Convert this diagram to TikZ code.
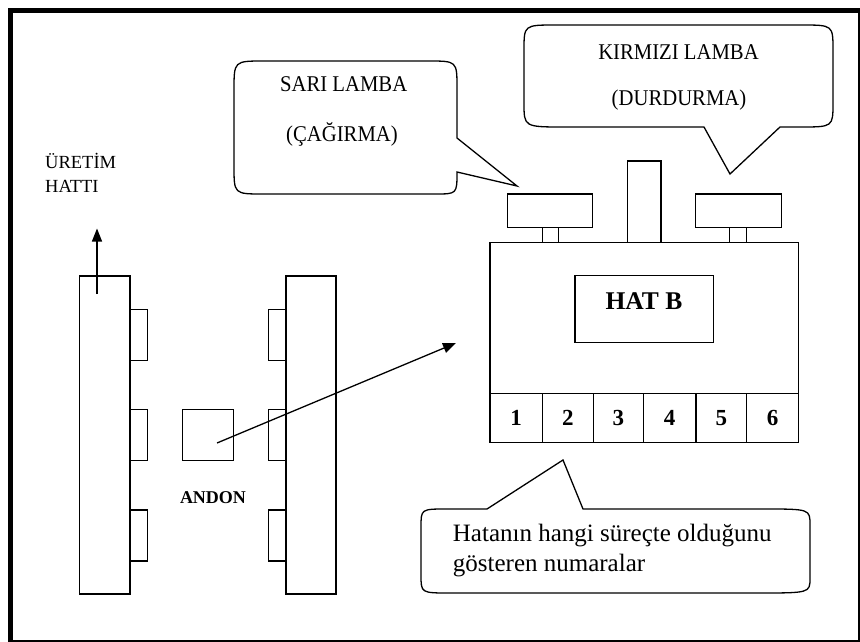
\documentclass[tikz,border=0pt]{standalone}
\usepackage{fontspec}
\setmainfont{Liberation Serif}
\newfontfamily\tallserif{Liberation Serif}[FakeStretch=0.92]
\usetikzlibrary{arrows.meta}
\begin{document}
\begin{tikzpicture}[x=1pt,y=-1pt,
  box/.style={draw, line width=1.3pt, inner sep=0pt, outer sep=0pt, anchor=north west},
  cell/.style={draw, line width=1.3pt, inner sep=0pt, outer sep=0pt, minimum height=49.4pt,
    font=\fontsize{23}{26}\selectfont\bfseries},
  bubble/.style={draw, line width=1.3pt},
  lbl/.style={inner sep=0pt, anchor=base, font=\tallserif\fontsize{22.5}{25}\selectfont},
  note/.style={inner sep=0pt, anchor=base west, font=\fontsize{25}{30}\selectfont},
  flow/.style={line width=1.3pt, -{Triangle[length=13pt,width=10pt]}}]
\useasboundingbox (0,0) rectangle (860,642);

% outer frame
\draw[line width=5pt] (10.5,10.5) rectangle (860,642);

% production line (left) with stations
\node[box, minimum width=50.7pt, minimum height=318pt] (lline) at (79.3,276) {};
\node[box, minimum width=17.7pt, minimum height=51pt] (ltabA) at (130,309.3) {};
\node[box, minimum width=17.7pt, minimum height=51pt] (ltabB) at (130,409.3) {};
\node[box, minimum width=17.7pt, minimum height=51pt] (ltabC) at (130,510) {};

% production line (right) with stations
\node[box, minimum width=50pt, minimum height=318pt] (rline) at (286,276) {};
\node[box, minimum width=17.7pt, minimum height=51pt] (rtabA) at (268.3,309.3) {};
\node[box, minimum width=17.7pt, minimum height=51pt] (rtabB) at (268.3,409.3) {};
\node[box, minimum width=17.7pt, minimum height=51pt] (rtabC) at (268.3,510) {};

% andon button
\node[box, minimum width=50.6pt, minimum height=51pt] (andon) at (182.7,409.3) {};
\node[inner sep=0pt, anchor=base, font=\fontsize{18}{20}\selectfont\bfseries] (andonlbl) at (213,503) {ANDON};

% line direction
\coordinate (upstart) at (97,294);
\coordinate (uptip) at (97,228.5);
\draw[flow] (upstart) -- (uptip);
\node[inner sep=0pt, anchor=base west, font=\fontsize{18.5}{22}\selectfont] (lineA) at (45,168) {ÜRETİM};
\node[inner sep=0pt, anchor=base west, font=\fontsize{18.5}{22}\selectfont] (lineB) at (45,192) {HATTI};

% signal from andon to the board
\coordinate (sigstart) at (217,443);
\coordinate (sigtip) at (456,343);
\draw[flow] (sigstart) -- (sigtip);

% andon board
\node[box, minimum width=308.3pt, minimum height=200pt] (board) at (490,242.7) {};
\node[box, minimum width=138.3pt, minimum height=67pt] (hatb) at (575,275.7) {};
\node[inner sep=0pt, anchor=base, font=\fontsize{25.5}{28}\selectfont\bfseries] (hatblbl) at (644,309) {HAT B};

% process number cells
\node[cell, minimum width=52.3pt, anchor=north west] (c1) at (490,393.3) {1};
\node[cell, minimum width=51pt, anchor=north west] (c2) at (542.3,393.3) {2};
\node[cell, minimum width=50pt, anchor=north west] (c3) at (593.3,393.3) {3};
\node[cell, minimum width=52.7pt, anchor=north west] (c4) at (643.3,393.3) {4};
\node[cell, minimum width=50.7pt, anchor=north west] (c5) at (696,393.3) {5};
\node[cell, minimum width=51.6pt, anchor=north west] (c6) at (746.7,393.3) {6};

% lamps and post on top of the board
\node[box, minimum width=85.4pt, minimum height=33.3pt] (lampY) at (507.3,194) {};
\node[box, minimum width=16pt, minimum height=15.4pt] (stemY) at (542.3,227.3) {};
\node[box, minimum width=33.3pt, minimum height=81.7pt] (post) at (627.7,161) {};
\node[box, minimum width=86pt, minimum height=33.3pt] (lampR) at (695.7,194) {};
\node[box, minimum width=17.4pt, minimum height=15.4pt] (stemR) at (729.3,227.3) {};

% yellow lamp bubble
\draw[bubble] (517,186) -- (457,138) -- (457,88) .. controls (457,61) .. (428,61)
  -- (264,61) .. controls (234,61) .. (234,90) -- (234,166)
  .. controls (234,194) .. (263,194) -- (435,194) .. controls (457,194) .. (457,172) -- cycle;
\node[lbl] (yA) at (343.7,92) {SARI LAMBA};
\node[lbl] (yB) at (342,141) {(ÇAĞIRMA)};

% red lamp bubble
\draw[bubble] (730,174) -- (704,127) -- (565,127) .. controls (524,127) .. (524,103)
  -- (524,50) .. controls (524,25) .. (556,25) -- (801,25) .. controls (833,25) .. (833,50)
  -- (833,103) .. controls (833,127) .. (800,127) -- (780,127) -- cycle;
\node[lbl] (rA) at (678.5,60) {KIRMIZI LAMBA};
\node[lbl] (rB) at (679,106) {(DURDURMA)};

% numbers bubble
\draw[bubble] (563,460) -- (583,509) -- (763,509) .. controls (810,509) .. (810,525)
  -- (810,578) .. controls (810,593) .. (757,593) -- (450,593) .. controls (421,593) .. (421,575)
  -- (421,527) .. controls (421,509) .. (447,509) -- (487,509) -- cycle;
\node[note] (nA) at (452.7,541.7) {Hatanın hangi süreçte olduğunu};
\node[note] (nB) at (452.7,571.7) {gösteren numaralar};
\end{tikzpicture}
\end{document}
